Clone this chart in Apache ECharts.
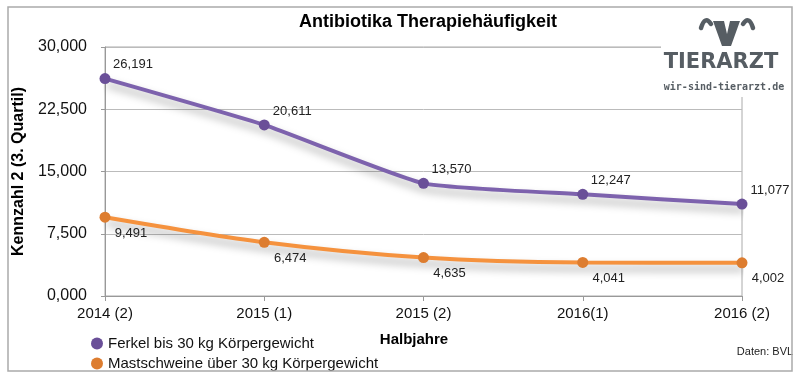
<!DOCTYPE html>
<html><head><meta charset="utf-8">
<script src="https://cdn.jsdelivr.net/npm/echarts@6/dist/echarts.min.js"></script>
<style>html,body{margin:0;padding:0;background:#fff}#c{width:800px;height:380px}</style>
</head><body><div id="c"></div>
<script>
var categories = ['2014 (2)', '2015 (1)', '2015 (2)', '2016(1)', '2016 (2)'];
var ferkel = [26.191, 20.611, 13.570, 12.247, 11.077];
var mast = [9.491, 6.474, 4.635, 4.041, 4.002];
var seriesNames = ['Ferkel bis 30 kg Körpergewicht', 'Mastschweine über 30 kg Körpergewicht'];
var yTicks = [0, 7.5, 15, 22.5, 30];

function de(v){ return v.toFixed(3).replace('.', ','); }
var FONT = 'Liberation Sans, Arial, sans-serif';
var LOGO = '#565d63';
var chart = echarts.init(document.getElementById('c'), null, {renderer:'canvas'});
chart.setOption({
  animation:false,
  backgroundColor:'#fff',
  textStyle:{fontFamily:FONT},
  title:{text:'Antibiotika Therapiehäufigkeit', left:423, textAlign:'center', top:8,
    textStyle:{fontSize:18, fontWeight:'bold', color:'#000', fontFamily:FONT}},
  grid:{left:105, right:58, top:47, bottom:84, show:true, borderColor:'#aaa', borderWidth:1, backgroundColor:'transparent'},
  xAxis:{type:'category', data:categories, boundaryGap:false,
    axisLine:{lineStyle:{color:'#999', width:1}},
    axisTick:{show:true, length:5, lineStyle:{color:'#999'}},
    axisLabel:{fontSize:15, color:'#111', margin:10, fontFamily:FONT},
    splitLine:{show:false}},
  yAxis:{type:'value', min:0, max:30, interval:7.5,
    name:'Kennzahl 2 (3. Quartil)', nameLocation:'middle', nameGap:78, nameRotate:90,
    nameTextStyle:{fontSize:16, fontWeight:'bold', color:'#000', fontFamily:FONT},
    axisLine:{show:true, lineStyle:{color:'#999'}},
    axisTick:{show:true, length:4, lineStyle:{color:'#999'}},
    axisLabel:{fontSize:16, color:'#111', margin:18, fontFamily:FONT, formatter:function(v){return de(v);}},
    splitLine:{lineStyle:{color:'#bbb', width:1}}},
  legend:{orient:'vertical', left:86, top:331, itemGap:5, itemWidth:12, itemHeight:12, icon:'circle',
    data:seriesNames, textStyle:{fontSize:15, color:'#111', fontFamily:FONT}},
  series:[
    {name:seriesNames[0], type:'line', data:ferkel, smooth:0.15, symbol:'circle', symbolSize:11,
      lineStyle:{color:'#7d62ad', width:4, shadowColor:'rgba(0,0,0,0.35)', shadowBlur:9, shadowOffsetX:2, shadowOffsetY:6},
      itemStyle:{color:'#6a4f98', borderWidth:0},
      label:{show:true, position:'top', distance:5, offset:[28,3], fontSize:13, color:'#222', fontFamily:FONT,
        formatter:function(p){return de(p.value);}}},
    {name:seriesNames[1], type:'line', data:mast, smooth:0.3, symbol:'circle', symbolSize:11,
      lineStyle:{color:'#f5923e', width:4, shadowColor:'rgba(0,0,0,0.35)', shadowBlur:9, shadowOffsetX:2, shadowOffsetY:6},
      itemStyle:{color:'#dd7d30', borderWidth:0},
      label:{show:true, position:'bottom', distance:5, offset:[26,-1], fontSize:13, color:'#222', fontFamily:FONT,
        formatter:function(p){return de(p.value);}}}
  ],
  graphic:[
    {type:'rect', z:100, shape:{x:661, y:8, width:131, height:89}, style:{fill:'#fff'}},
    {type:'polygon', z:101, shape:{points:[[713,21],[724,21],[727,34],[730,21],[740,21],[731,46],[722,46]]}, style:{fill:LOGO}},
    {type:'bezierCurve', z:101, shape:{x1:701, y1:28, cpx1:705, cpy1:15, x2:711, y2:24}, style:{fill:'none', stroke:LOGO, lineWidth:4.5, lineCap:'round'}},
    {type:'bezierCurve', z:101, shape:{x1:753, y1:28, cpx1:749, cpy1:15, x2:743, y2:24}, style:{fill:'none', stroke:LOGO, lineWidth:4.5, lineCap:'round'}},
    {type:'text', z:101, x:721, y:63, style:{text:'TIERARZT', font:'bold 21px "DejaVu Sans", sans-serif', fill:LOGO, textAlign:'center', textVerticalAlign:'middle'}},
    {type:'text', z:101, x:724, y:87, style:{text:'wir-sind-tierarzt.de', font:'bold 10px "DejaVu Sans Mono", monospace', fill:LOGO, textAlign:'center', textVerticalAlign:'middle'}},
    {type:'text', z:101, x:414, y:340, style:{text:'Halbjahre', font:'bold 15px '+FONT, fill:'#000', textAlign:'center', textVerticalAlign:'middle'}},
    {type:'text', z:101, x:765, y:352, style:{text:'Daten: BVL', font:'11px '+FONT, fill:'#222', textAlign:'center', textVerticalAlign:'middle'}},
    {type:'rect', z:102, shape:{x:8, y:7, width:784, height:364}, style:{fill:'none', stroke:'#aaa', lineWidth:1.5}}
  ]
});
</script></body></html>
